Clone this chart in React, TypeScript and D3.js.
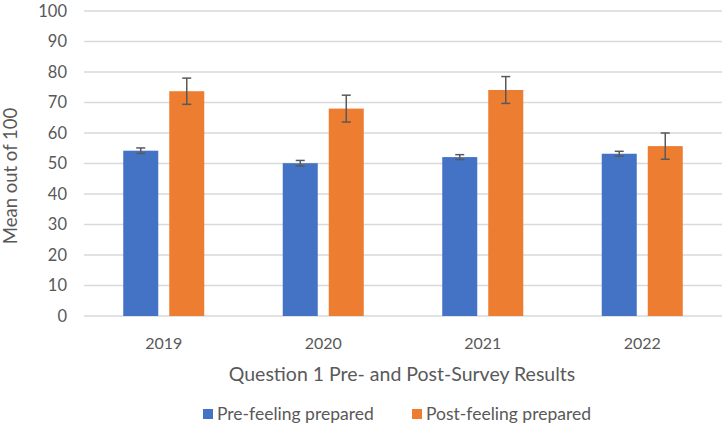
import { useEffect, useRef } from "react";
import * as d3 from "d3";

const years = ["2019", "2020", "2021", "2022"];
const seriesNames = ["Pre-feeling prepared", "Post-feeling prepared"];
const preMeans = [54.2, 50.1, 52.1, 53.2];
const preErrors = [0.9, 0.9, 0.8, 0.8];
const postMeans = [73.7, 68.0, 74.1, 55.7];
const postErrors = [4.3, 4.4, 4.4, 4.3];
const yTicks = [0, 10, 20, 30, 40, 50, 60, 70, 80, 90, 100];
const colors = ["#4472C4", "#ED7D31"];

export default function App() {
  const svgRef = useRef<SVGSVGElement>(null);

  useEffect(() => {
    if (!svgRef.current) return;
    const svg = d3.select(svgRef.current);
    svg.selectAll("*").remove();

    const font = "Lato, 'Open Sans', sans-serif";
    const textColor = "#595959";

    const x0 = d3
      .scaleBand()
      .domain(years)
      .range([84, 722])
      .paddingInner(0.492)
      .paddingOuter(0.246);

    const x1 = d3
      .scaleBand()
      .domain(seriesNames)
      .range([0, x0.bandwidth()])
      .paddingInner(11 / 46);

    const y = d3.scaleLinear().domain([0, 100]).range([316, 11]);

    // gridlines
    svg
      .append("g")
      .selectAll("line")
      .data(yTicks)
      .enter()
      .append("line")
      .attr("x1", 84)
      .attr("x2", 722)
      .attr("y1", (d) => y(d))
      .attr("y2", (d) => y(d))
      .attr("stroke", "#d9d9d9")
      .attr("stroke-width", 1.3);

    // y tick labels
    svg
      .append("g")
      .selectAll("text")
      .data(yTicks)
      .enter()
      .append("text")
      .attr("x", 67)
      .attr("y", (d) => y(d))
      .attr("dy", "0.36em")
      .attr("text-anchor", "end")
      .style("font-family", font)
      .style("font-size", "16.5px")
      .style("fill", textColor)
      .text((d) => d);

    const rows = years.map((yr, i) => ({
      year: yr,
      values: [
        { name: seriesNames[0], mean: preMeans[i], err: preErrors[i], color: colors[0] },
        { name: seriesNames[1], mean: postMeans[i], err: postErrors[i], color: colors[1] },
      ],
    }));

    const groups = svg
      .append("g")
      .selectAll("g")
      .data(rows)
      .enter()
      .append("g")
      .attr("transform", (d) => `translate(${x0(d.year)},0)`);

    groups
      .selectAll("rect")
      .data((d) => d.values)
      .enter()
      .append("rect")
      .attr("x", (d) => x1(d.name)!)
      .attr("width", x1.bandwidth())
      .attr("y", (d) => y(d.mean))
      .attr("height", (d) => y(0) - y(d.mean))
      .attr("fill", (d) => d.color);

    // error bars
    const eb = groups
      .selectAll("g.err")
      .data((d) => d.values)
      .enter()
      .append("g")
      .attr("class", "err")
      .attr("stroke", "#595959")
      .attr("stroke-width", 1.5);

    const cx = (d: { name: string }) => x1(d.name)! + x1.bandwidth() / 2;
    eb.append("line")
      .attr("x1", cx)
      .attr("x2", cx)
      .attr("y1", (d) => y(d.mean + d.err))
      .attr("y2", (d) => y(d.mean - d.err));
    eb.append("line")
      .attr("x1", (d) => cx(d) - 4.5)
      .attr("x2", (d) => cx(d) + 4.5)
      .attr("y1", (d) => y(d.mean + d.err))
      .attr("y2", (d) => y(d.mean + d.err));
    eb.append("line")
      .attr("x1", (d) => cx(d) - 4.5)
      .attr("x2", (d) => cx(d) + 4.5)
      .attr("y1", (d) => y(d.mean - d.err))
      .attr("y2", (d) => y(d.mean - d.err));

    // x labels
    svg
      .append("g")
      .selectAll("text")
      .data(years)
      .enter()
      .append("text")
      .attr("x", (d) => x0(d)! + x0.bandwidth() / 2)
      .attr("y", 349)
      .attr("text-anchor", "middle")
      .style("font-family", font)
      .style("font-size", "16px")
      .style("fill", textColor)
      .text((d) => d);

    // axis titles
    svg
      .append("text")
      .attr("x", 402)
      .attr("y", 381)
      .attr("text-anchor", "middle")
      .style("font-family", font)
      .style("font-size", "19.5px")
      .style("fill", textColor)
      .text("Question 1 Pre- and Post-Survey Results");

    svg
      .append("text")
      .attr("transform", "translate(17,176) rotate(-90)")
      .attr("text-anchor", "middle")
      .style("font-family", font)
      .style("font-size", "18.5px")
      .style("fill", textColor)
      .text("Mean out of 100");

    // legend
    const legendX = [203, 412];
    const legend = svg
      .append("g")
      .selectAll("g")
      .data(seriesNames)
      .enter()
      .append("g")
      .attr("transform", (_, i) => `translate(${legendX[i]},409)`);
    legend
      .append("rect")
      .attr("width", 10)
      .attr("height", 10)
      .attr("fill", (_, i) => colors[i]);
    legend
      .append("text")
      .attr("x", 14)
      .attr("y", 11)
      .style("font-family", font)
      .style("font-size", "17.5px")
      .style("fill", textColor)
      .text((d) => d);
  }, []);

  return (
    <svg
      ref={svgRef}
      width={724}
      height={425}
      style={{ position: "absolute", left: 0, top: 0, background: "#fff" }}
    />
  );
}
